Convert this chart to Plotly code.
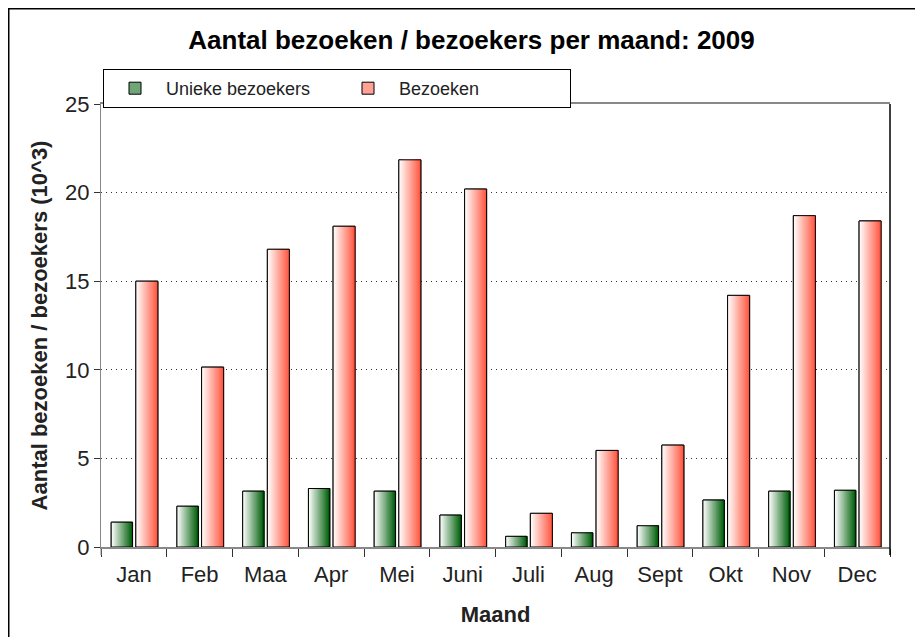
import plotly.graph_objects as go

months = ["Jan", "Feb", "Maa", "Apr", "Mei", "Juni", "Juli", "Aug", "Sept", "Okt", "Nov", "Dec"]
unieke = [1.4, 2.3, 3.15, 3.3, 3.15, 1.8, 0.6, 0.8, 1.2, 2.65, 3.15, 3.2]
bezoeken = [15.0, 10.15, 16.8, 18.1, 21.85, 20.2, 1.9, 5.45, 5.75, 14.2, 18.7, 18.4]

FONT = "Liberation Sans, Arial, sans-serif"
N = 18

# plot area in figure pixels
L, R, T, B = 93, 882, 96, 539
PW, PH = R - L, B - T

def px(x):
    return (x - L) / PW

def py(y):
    return (B - y) / PH

def lerp(c0, c1, t):
    return "rgb(%d,%d,%d)" % tuple(round(a + (b - a) * t) for a, b in zip(c0, c1))

series = [
    ("Unieke bezoekers", unieke, -0.345, 0.325, (250, 252, 250), (0, 95, 10)),
    ("Bezoeken", bezoeken, 0.03, 0.335, (255, 252, 250), (255, 88, 66)),
]

fig = go.Figure()

# legend / base traces
for name, vals, off, w, c0, c1 in series:
    fig.add_trace(go.Bar(
        x=months, y=vals, name=name, offset=off, width=w,
        marker=dict(color=lerp(c0, c1, 0.55), line=dict(color="black", width=1)),
        showlegend=True, hoverinfo="skip",
    ))

# gradient strips
for name, vals, off, w, c0, c1 in series:
    for k in range(N):
        t = k / (N - 1)
        fig.add_trace(go.Bar(
            x=months, y=vals, offset=off + k * w / N, width=w - k * w / N,
            marker=dict(color=lerp(c0, c1, t), line=dict(width=0)),
            showlegend=False, hoverinfo="skip",
        ))

# outlines on top
for name, vals, off, w, c0, c1 in series:
    fig.add_trace(go.Bar(
        x=months, y=vals, offset=off, width=w,
        marker=dict(color="rgba(0,0,0,0)", line=dict(color="black", width=1)),
        showlegend=False, hoverinfo="skip",
    ))

fig.update_layout(
    width=923, height=637,
    margin=dict(l=L, r=923 - R, t=T, b=637 - B),
    paper_bgcolor="white", plot_bgcolor="white",
    barmode="overlay",
    font=dict(family=FONT, color="#222", size=22),
    title=dict(text="<b>Aantal bezoeken / bezoekers per maand: 2009</b>",
               x=463.5 / 923, xref="container", xanchor="center",
               y=1 - 32 / 637, yref="container", yanchor="middle",
               font=dict(size=26, color="black", family=FONT)),
    legend=dict(orientation="h", x=px(95), y=py(61), xanchor="left", yanchor="top",
                bgcolor="white", bordercolor="black", borderwidth=1,
                font=dict(size=18, color="#222"), itemwidth=52,
                entrywidth=166, entrywidthmode="pixels",
                traceorder="normal", itemclick=False),
    xaxis=dict(type="category", range=[-0.5, 11.5], tickson="boundaries",
               ticks="outside", ticklen=8, tickcolor="#333", tickwidth=1,
               showline=True, linecolor="#888", linewidth=2, mirror=True,
               showgrid=False, tickfont=dict(size=22, color="#222"), automargin=False,
               ticklabelstandoff=7,
               title=dict(text="<b>Maand</b>", font=dict(size=22, color="#222"), standoff=20)),
    yaxis=dict(range=[0, 25], dtick=5, ticks="outside", ticklen=6, tickcolor="#333",
               showline=True, linecolor="#888", linewidth=1, zeroline=False,
               showgrid=True, gridcolor="#333", griddash="1px,4px", gridwidth=1,
               tickfont=dict(size=22, color="#222"), automargin=False,
               title=dict(text="<b>Aantal bezoeken / bezoekers (10^3)</b>",
                          font=dict(size=22, color="#222"), standoff=11)),
    shapes=[
        dict(type="rect", xref="paper", yref="paper",
             x0=px(0.75), x1=px(940), y0=py(660), y1=py(0.75),
             line=dict(color="black", width=1.5), fillcolor="rgba(0,0,0,0)", layer="above"),
        dict(type="line", xref="paper", yref="paper", x0=1, x1=1,
             y0=py(547), y1=1, line=dict(color="black", width=1.5)),
        dict(type="line", xref="paper", yref="paper", x0=0, x1=0,
             y0=py(547), y1=0, line=dict(color="#888", width=1)),
    ],
)

fig.write_html("out.html")
